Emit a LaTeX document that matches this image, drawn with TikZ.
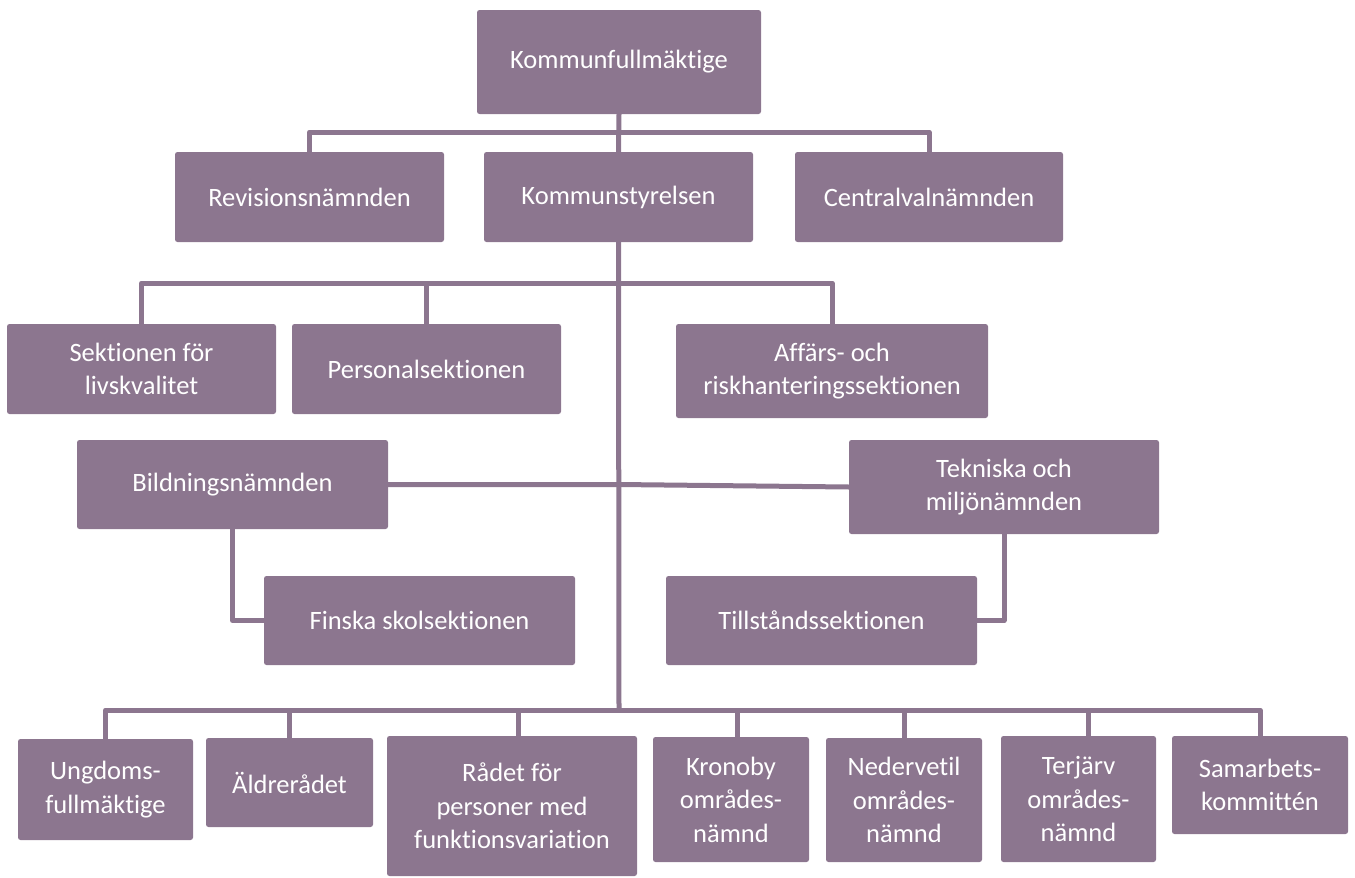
\documentclass[tikz,border=0pt]{standalone}
\usepackage{fontspec}
\setmainfont{Carlito}[Ligatures={NoCommon}]
\definecolor{boxc}{RGB}{140,118,143}
\tikzset{
  box/.style={fill=boxc, rounded corners=2.5pt, text=white, align=center,
    inner sep=0pt, font=\fontsize{26.5}{33.5}\selectfont},
  conn/.style={draw=boxc, line width=5pt, line join=round}
}
\newcommand{\bx}[6]{\node[box, minimum width={#4-#2}, minimum height={#5-#3}] (#1) at ({(#2+#4)/2},{(#3+#5)/2}) {#6};}
\begin{document}
\begin{tikzpicture}[x=1pt,y=-1pt]
\useasboundingbox (0,0) rectangle (1355,878);
\coordinate (top) at (619,132);
\coordinate (mid) at (619,283);
\coordinate (bot) at (619,710);
\bx{KF}{477}{10}{761}{114}{Kommunfullmäktige}
\bx{Rev}{175}{152}{444}{242}{Revisionsnämnden}
\bx{KS}{484}{152}{753}{242}{Kommunstyrelsen}
\bx{Cen}{795}{152}{1063}{242}{Centralvalnämnden}
\bx{Sek}{7}{324}{276}{414}{Sektionen för\\livskvalitet}
\bx{Pers}{292}{324}{561}{414}{Personalsektionen}
\bx{Aff}{676}{324}{988}{418}{Affärs- och\\riskhanteringssektionen}
\bx{Bild}{77}{440}{388}{529}{Bildningsnämnden}
\bx{Tek}{849}{440}{1159}{534}{Tekniska och\\miljönämnden}
\bx{Fin}{264}{576}{575}{665}{Finska skolsektionen}
\bx{Till}{666}{576}{977}{665}{Tillståndssektionen}
\bx{Ung}{18}{739}{193}{840}{Ungdoms-\\fullmäktige}
\bx{Ald}{206}{738}{373}{827}{Äldrerådet}
\bx{Rad}{387}{736}{637}{876}{Rådet för\\personer med\\funktionsvariation}
\bx{Kro}{653}{737}{809}{862}{Kronoby\\områdes-\\nämnd}
\bx{Ned}{826}{738}{982}{862}{Nedervetil\\områdes-\\nämnd}
\bx{Ter}{1001}{736}{1156}{862}{Terjärv\\områdes-\\nämnd}
\bx{Sam}{1172}{736}{1348}{834}{Samarbets-\\kommittén}
% level 1
\draw[conn] (KF.south) -- (KS.north);
\draw[conn] (Rev.north) |- (top) -| (Cen.north);
% level 2
\draw[conn] (KS.south) -- (bot);
\draw[conn] (Sek.north) |- (mid) -| (Aff.north);
\draw[conn] (Pers.north) -- (Pers.north |- mid);
\draw[conn] (Bild.east) -- (Bild.east -| KS.south) -- (Tek.west);
\draw[conn] (Bild.south) |- (Fin.west);
\draw[conn] (Tek.south) |- (Till.east);
% level 3
\draw[conn] (Ung.north) |- (bot) -| (Sam.north);
\draw[conn] (Ald.north) -- (Ald.north |- bot);
\draw[conn] ([xshift=6pt]Rad.north) -- ([xshift=6pt]Rad.north |- bot);
\draw[conn] ([xshift=6pt]Kro.north) -- ([xshift=6pt]Kro.north |- bot);
\draw[conn] (Ned.north) -- (Ned.north |- bot);
\draw[conn] ([xshift=10pt]Ter.north) -- ([xshift=10pt]Ter.north |- bot);
\end{tikzpicture}
\end{document}
